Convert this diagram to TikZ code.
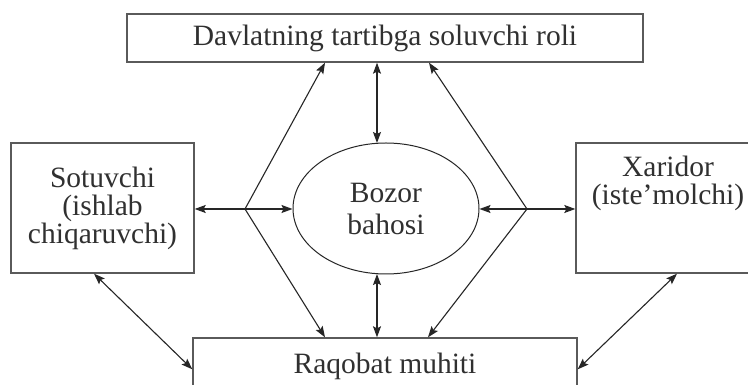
\documentclass[tikz,border=0pt]{standalone}
\usepackage{fontspec}
\setmainfont{Liberation Serif}
\usetikzlibrary{arrows.meta,shapes.geometric}
\definecolor{boxc}{HTML}{5A5A5A}
\definecolor{linec}{HTML}{262626}
\definecolor{txtc}{HTML}{303030}
\tikzset{
  box/.style={draw=boxc, line width=1.4pt, rectangle, inner sep=0pt, align=center,
    text=txtc, font=\fontsize{29.5}{28}\selectfont},
  oval/.style={draw=linec, line width=1pt, ellipse, inner sep=0pt, align=center,
    text=txtc, font=\fontsize{29.5}{32}\selectfont},
  conn/.style={draw=linec, line width=1.1pt},
  tip/.style={-{Stealth[length=11pt,width=8pt,inset=2pt]}},
  tips/.style={{Stealth[length=11pt,width=8pt,inset=2pt]}-{Stealth[length=11pt,width=8pt,inset=2pt]}}
}
\begin{document}
\begin{tikzpicture}[x=1pt,y=1pt]
\useasboundingbox (0,0) rectangle (748,385);
\begin{scope}
\clip (0,0) rectangle (748,385);
\fill[white] (0,0) rectangle (748,385);
\node[box, minimum width=516pt, minimum height=48pt] (top) at (385,347) {Davlatning tartibga soluvchi roli};
\node[box, minimum width=183pt, minimum height=130pt] (left) at (102.5,177) {Sotuvchi\\(ishlab\\chiqaruvchi)};
\node[box, minimum width=184pt, minimum height=130pt] (right) at (668,177) {Xaridor\\(iste’molchi)\\[28pt]};
\node[box, minimum width=384pt, minimum height=56pt] (bot) at (385,19) {Raqobat muhiti};
\node[oval, minimum width=186pt, minimum height=131pt] (el) at (386,176.5) {Bozor\\bahosi};
\coordinate (L) at (245,176);
\coordinate (R) at (527,176);
% hexagon lines
\draw[conn, tip] (L) -- ([xshift=-60pt]top.south);
\draw[conn, tip] (L) -- ([xshift=-60pt]bot.north);
\draw[conn, tip] (R) -- ([xshift=44pt]top.south);
\draw[conn, tip] (R) -- ([xshift=43pt]bot.north);
% horizontal
\draw[conn, tips] (left.east |- L) -- (el.west |- L);
\draw[conn, tips] (el.east |- R) -- (right.west |- R);
% vertical
\draw[conn, tips] ([xshift=-8pt]top.south) -- ([xshift=-8pt,yshift=-0.5pt]top.south |- el.north);
\draw[conn, tips] ([xshift=-8pt,yshift=0.5pt]top.south |- el.south) -- ([xshift=-8pt]top.south |- bot.north);
% diagonals
\draw[conn, tips] ([xshift=-8.5pt]left.south) -- ([yshift=-32pt]bot.north west);
\draw[conn, tips] ([xshift=9pt]right.south) -- ([yshift=-32pt]bot.north east);
\end{scope}
\end{tikzpicture}
\end{document}
